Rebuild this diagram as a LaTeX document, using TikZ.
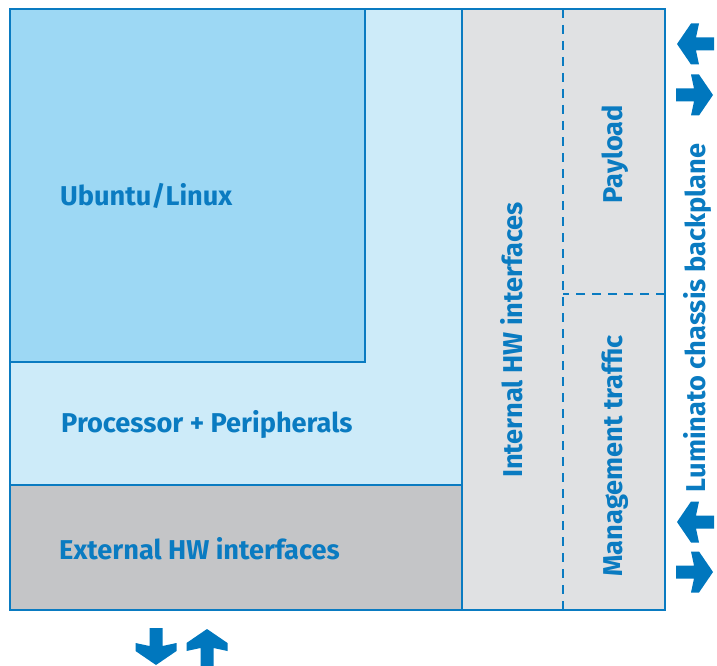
\documentclass[tikz,border=0pt]{standalone}
\usepackage{fontspec}
\setmainfont{Fira Sans}
\definecolor{bl}{HTML}{0A7BC1}
\definecolor{ubu}{HTML}{9DD8F4}
\definecolor{proc}{HTML}{CDEBF9}
\definecolor{ext}{HTML}{C4C5C7}
\definecolor{intg}{HTML}{E0E1E3}
\definecolor{arr}{HTML}{0077BE}
\tikzset{
  blk/.style={draw=bl, line width=2pt},
  lbl/.style={text=bl, font=\bfseries\fontsize{27.2}{30}\selectfont, inner sep=0pt},
  arrowshape/.pic={\fill[arr] (0,-6.5) -- (18,-6.5) -- (15,-20.5) -- (23,-20.5) -- (37,0) -- (23,20.5) -- (15,20.5) -- (18,6.5) -- (0,6.5) -- cycle;}
}
\begin{document}
\begin{tikzpicture}[x=1pt,y=-1pt]
\useasboundingbox (0,0) rectangle (717,666);
% regions
\fill[proc] (10,9) rectangle (462,485);
\fill[ubu] (10,9) rectangle (365,362);
\fill[ext] (10,485) rectangle (462,610);
\fill[intg] (462,9) rectangle (665,610);
\draw[blk, line width=2.5pt] (10,362) -- (365,362) -- (365,9);
\draw[blk] (10,485) -- (462,485);
\draw[blk] (462,9) -- (462,610);
\draw[bl, line width=1.5pt, dash pattern=on 9pt off 7pt] (563,9) -- (563,610);
\draw[bl, line width=1.5pt, dash pattern=on 9pt off 7pt] (665,294) -- (563,294);
\draw[blk] (10,9) rectangle (665,610);
% labels
\node[lbl, anchor=west] (ubuntu) at (60,196) {Ubuntu/Linux};
\node[lbl, anchor=west] (proc) at (61,424) {Processor + Peripherals};
\node[lbl, anchor=west] (ext) at (59,549) {External HW interfaces};
\node[lbl, rotate=90] (int) at (512,340) {Internal HW interfaces};
\node[lbl, rotate=90] (pay) at (615,154) {Payload};
\node[lbl, rotate=90] (mgmt) at (615,456) {Management traffic};
\node[lbl, rotate=90] (lum) at (697,318) {Luminato chassis backplane};
% arrows
\pic[rotate=180] at (714,44) {arrowshape};
\pic at (676,95) {arrowshape};
\pic[rotate=180] at (714,522) {arrowshape};
\pic at (676,572) {arrowshape};
\pic[rotate=-90] at (156,628) {arrowshape};
\pic[rotate=90] at (207,666) {arrowshape};
\end{tikzpicture}
\end{document}
